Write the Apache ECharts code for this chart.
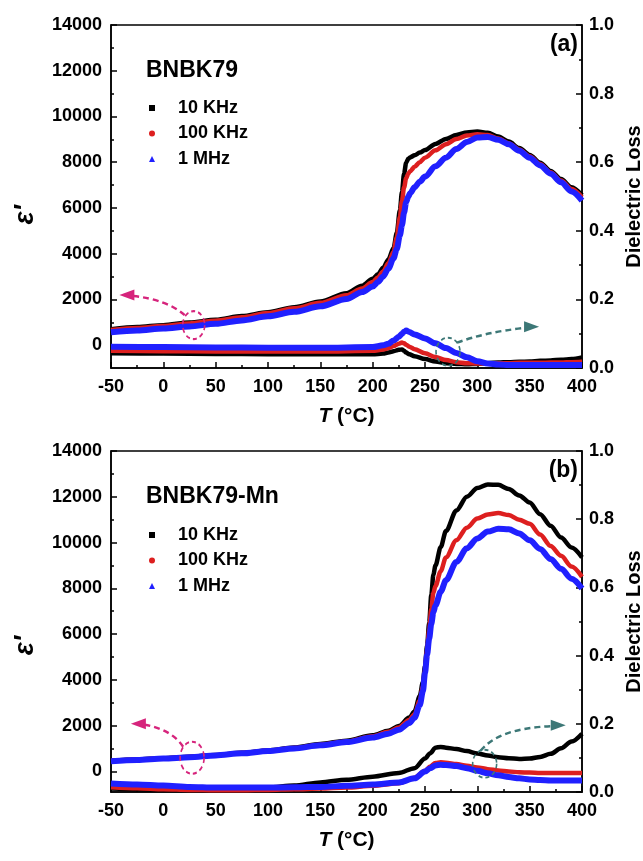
<!DOCTYPE html>
<html><head><meta charset="utf-8">
<script src="https://cdn.jsdelivr.net/npm/echarts@6/dist/echarts.min.js"></script>
<style>html,body{margin:0;padding:0;background:#fff}#c{width:643px;height:861px}</style>
</head><body><div id="c"></div>
<script>
// ---------- data ----------
const seriesNames = ['10 KHz', '100 KHz', '1 MHz'];
const xTicks = [-50, 0, 50, 100, 150, 200, 250, 300, 350, 400];
const epsTicks = [0, 2000, 4000, 6000, 8000, 10000, 12000, 14000];
const epsMinorTicks = [1000, 3000, 5000, 7000, 9000, 11000, 13000];
const lossTicks = [0.0, 0.2, 0.4, 0.6, 0.8, 1.0];

// Panel (a) BNBK79 — permittivity
const Ta_eps = [-50,-25,0,25,50,75,100,125,150,175,190,200,205,210,215,220,223,226,228,230,232,234,236,240,245,250,260,270,280,290,300,310,320,330,340,350,360,370,380,390,400];
const a_eps_10k = [700,790,875,990,1110,1270,1440,1660,1910,2270,2600,2900,3100,3380,3750,4250,4900,5900,6700,7500,7980,8150,8220,8300,8420,8530,8800,9020,9190,9300,9340,9290,9120,8900,8620,8320,7980,7620,7260,6900,6550];
const a_eps_100k = [660,750,840,950,1070,1220,1400,1610,1850,2180,2480,2760,2960,3220,3580,4100,4700,5600,6300,6900,7300,7500,7620,7800,8000,8200,8520,8790,9010,9170,9220,9190,9040,8830,8560,8260,7920,7560,7200,6830,6470];
const a_eps_1M = [560,640,730,820,930,1080,1260,1460,1700,2020,2320,2560,2760,3000,3350,3800,4200,4800,5250,5800,6250,6500,6650,6900,7150,7370,7820,8200,8580,8880,9080,9100,8980,8780,8500,8200,7860,7500,7120,6720,6320];
// Panel (a) — dielectric loss
const Ta_loss = [-50,0,50,100,150,200,210,215,220,225,228,230,232,235,240,250,260,270,280,290,300,310,320,330,340,350,360,370,380,390,400];
const a_loss_10k = [0.043,0.042,0.041,0.040,0.040,0.040,0.042,0.045,0.049,0.053,0.054,0.050,0.045,0.040,0.034,0.026,0.019,0.014,0.012,0.011,0.012,0.014,0.016,0.017,0.018,0.019,0.021,0.022,0.024,0.026,0.031];
const a_loss_100k = [0.050,0.049,0.048,0.048,0.048,0.050,0.054,0.058,0.064,0.071,0.074,0.072,0.068,0.062,0.055,0.043,0.032,0.023,0.017,0.014,0.013,0.013,0.014,0.014,0.015,0.015,0.015,0.016,0.016,0.017,0.018];
const a_loss_1M = [0.062,0.061,0.060,0.059,0.059,0.061,0.066,0.071,0.080,0.091,0.100,0.106,0.109,0.105,0.098,0.086,0.072,0.058,0.044,0.031,0.020,0.013,0.010,0.009,0.009,0.009,0.009,0.009,0.009,0.009,0.009];

// Panel (b) BNBK79-Mn — permittivity
const Tb_eps = [-50,-25,0,25,50,75,100,125,150,175,200,215,225,235,240,245,248,250,252,254,256,258,260,265,270,280,290,300,310,320,330,340,350,360,370,380,390,400];
const b_eps_10k = [470,520,580,640,720,810,910,1040,1200,1340,1580,1780,1980,2350,2620,3300,3900,4600,5500,6500,7700,8600,9000,9800,10500,11400,12000,12380,12540,12520,12340,12060,11750,11240,10730,10220,9780,9350];
const b_eps_100k = [460,510,570,630,710,800,900,1020,1170,1310,1540,1730,1920,2250,2500,3100,3700,4400,5300,6200,7100,7800,8100,8750,9350,10100,10650,11050,11230,11290,11200,11000,10820,10350,9850,9420,8950,8500];
const b_eps_1M = [440,500,560,620,700,790,890,1000,1140,1280,1480,1650,1820,2120,2350,2900,3500,4300,5100,5800,6450,6950,7250,7850,8350,9150,9750,10180,10480,10600,10580,10400,10100,9720,9280,8850,8420,7990];
// Panel (b) — dielectric loss
const Tb_loss = [-50,-25,0,25,50,75,100,125,150,175,200,225,240,250,255,260,265,270,280,290,300,310,320,330,340,350,360,370,380,390,400];
const b_loss_10k = [0.010,0.008,0.007,0.007,0.007,0.009,0.013,0.019,0.028,0.036,0.045,0.056,0.070,0.098,0.114,0.130,0.132,0.130,0.126,0.120,0.113,0.107,0.102,0.099,0.097,0.098,0.103,0.112,0.128,0.148,0.171];
const b_loss_100k = [0.014,0.011,0.008,0.006,0.005,0.005,0.006,0.008,0.010,0.013,0.018,0.026,0.042,0.062,0.075,0.085,0.087,0.086,0.082,0.077,0.072,0.067,0.063,0.060,0.058,0.057,0.056,0.056,0.056,0.056,0.056];
const b_loss_1M = [0.025,0.022,0.019,0.015,0.013,0.013,0.013,0.014,0.015,0.018,0.022,0.028,0.040,0.060,0.070,0.078,0.080,0.079,0.076,0.070,0.062,0.055,0.049,0.044,0.040,0.037,0.035,0.034,0.034,0.034,0.034];

// ---------- styling ----------
const FONT = "'Liberation Sans', Arial, sans-serif";
const COLORS = ['#000000', '#dd1f1f', '#2020ff'];
const WIDTHS = [4.5, 4.5, 6];
const MAGENTA = '#d6247c';
const TEAL = '#3d7877';

const chart = echarts.init(document.getElementById('c'), null, {renderer: 'canvas'});

const grids = [
  {left: 111, top: 25, width: 471, height: 343},
  {left: 111, top: 451, width: 471, height: 341}
];
const epsMin = [-1000, -900];

function pairs(xs, ys) { return xs.map((x, i) => [x, ys[i]]); }

const tickLabel = {fontSize: 18, fontWeight: 'bold', fontFamily: FONT, color: '#000'};
const axLine = {show: true, onZero: false, lineStyle: {color: '#000', width: 1.5}};

const xAxes = [0, 1].map(g => ({
  type: 'value', gridIndex: g, min: -50, max: 400, interval: 50,
  axisLine: axLine,
  axisTick: {show: true, inside: true, length: 6, lineStyle: {color: '#000', width: 1.5}},
  minorTick: {show: true, splitNumber: 2, length: 3, lineStyle: {color: '#000', width: 1.5}},
  axisLabel: Object.assign({margin: 10, showMinLabel: true, showMaxLabel: true, formatter: v => String(v)}, tickLabel),
  splitLine: {show: false},
  name: '{i|T} (°C)', nameLocation: 'middle', nameGap: 38,
  nameTextStyle: {fontSize: 21, fontWeight: 'bold', fontFamily: FONT, color: '#000',
    rich: {i: {fontSize: 21, fontWeight: 'bold', fontStyle: 'italic', fontFamily: FONT, color: '#000'}}}
}));

const yAxes = [];
[0, 1].forEach(g => {
  yAxes.push({
    type: 'value', gridIndex: g, position: 'left', min: epsMin[g], max: 14000,
    axisLine: axLine,
    axisTick: {show: true, inside: true, length: 6, customValues: epsTicks, lineStyle: {color: '#000', width: 1.5}},
    axisLabel: Object.assign({margin: 9, customValues: epsTicks, formatter: v => String(v)}, tickLabel),
    splitLine: {show: false}
  });
  yAxes.push({
    type: 'value', gridIndex: g, position: 'right', min: 0, max: 1, interval: 0.2,
    axisLine: axLine,
    axisTick: {show: true, inside: true, length: 6, lineStyle: {color: '#000', width: 1.5}},
    minorTick: {show: true, splitNumber: 2, length: 3, lineStyle: {color: '#000', width: 1.5}},
    axisLabel: Object.assign({margin: 7, formatter: v => v.toFixed(1)}, tickLabel),
    splitLine: {show: false},
    name: 'Dielectric Loss', nameLocation: 'middle', nameRotate: 90, nameGap: 42,
    nameTextStyle: {fontSize: 20, fontWeight: 'bold', fontFamily: FONT, color: '#000'}
  });
  yAxes.push({
    type: 'value', gridIndex: g, position: 'left', min: epsMin[g], max: 14000,
    axisLine: {show: false, onZero: false},
    axisTick: {show: true, inside: true, length: 3, customValues: epsMinorTicks, lineStyle: {color: '#000', width: 1.5}},
    axisLabel: {show: false},
    splitLine: {show: false}
  });
});

const panelData = [
  {Te: Ta_eps, eps: [a_eps_10k, a_eps_100k, a_eps_1M], Tl: Ta_loss, loss: [a_loss_10k, a_loss_100k, a_loss_1M]},
  {Te: Tb_eps, eps: [b_eps_10k, b_eps_100k, b_eps_1M], Tl: Tb_loss, loss: [b_loss_10k, b_loss_100k, b_loss_1M]}
];

const series = [];
panelData.forEach((p, g) => {
  p.eps.forEach((ys, k) => series.push({
    type: 'line', name: seriesNames[k], xAxisIndex: g, yAxisIndex: g * 3,
    data: pairs(p.Te, ys), showSymbol: false, smooth: 0.3, smoothMonotone: 'x',
    lineStyle: {color: COLORS[k], width: WIDTHS[k]}, itemStyle: {color: COLORS[k]}, z: 2 + k
  }));
  p.loss.forEach((ys, k) => series.push({
    type: 'line', name: seriesNames[k], xAxisIndex: g, yAxisIndex: g * 3 + 1,
    data: pairs(p.Tl, ys), showSymbol: false, smooth: 0.3, smoothMonotone: 'x',
    lineStyle: {color: COLORS[k], width: WIDTHS[k]}, itemStyle: {color: COLORS[k]}, z: 2 + k
  }));
});

const legendData = [
  {name: '10 KHz', icon: 'rect'},
  {name: '100 KHz', icon: 'circle'},
  {name: '1 MHz', icon: 'triangle'}
];
const legends = [99, 526].map(top => ({
  orient: 'vertical', left: 149, top: top, itemWidth: 6, itemHeight: 6, itemGap: 7.5,
  padding: 0, data: legendData, selectedMode: false,
  textStyle: {fontSize: 18, fontWeight: 'bold', fontFamily: FONT, color: '#000', lineHeight: 18, padding: [0, 0, 0, 18]}
}));

const titleStyle = {fontSize: 23, fontWeight: 'bold', fontFamily: FONT, color: '#000'};
const titles = [
  {text: 'BNBK79', left: 146, top: 59, padding: 0, textStyle: titleStyle},
  {text: '(a)', right: 65, top: 33, padding: 0, textStyle: titleStyle},
  {text: 'BNBK79-Mn', left: 146, top: 485, padding: 0, textStyle: titleStyle},
  {text: '(b)', right: 65, top: 459, padding: 0, textStyle: titleStyle}
];

chart.setOption({
  animation: false,
  backgroundColor: '#fff',
  title: titles,
  legend: legends,
  grid: grids.map(g => Object.assign({show: true, borderColor: '#000', borderWidth: 1.5, containLabel: false, outerBoundsMode: 'none'}, g)),
  xAxis: xAxes,
  yAxis: yAxes,
  series: series
});

// ---------- annotations (anchored in data space) ----------
function px(si, pt) { return chart.convertToPixel({seriesIndex: si}, pt); }
const dash = [4, 3];
function ellipse(c, rx, ry, color) {
  return {type: 'circle', x: c[0], y: c[1], scaleX: 1, scaleY: ry / rx, shape: {cx: 0, cy: 0, r: rx},
    style: {fill: 'none', stroke: color, lineWidth: 1.6, lineDash: dash, strokeNoScale: true}, z: 20};
}
function curve(s, cp, e, color) {
  return {type: 'bezierCurve', shape: {x1: s[0], y1: s[1], cpx1: cp[0], cpy1: cp[1], x2: e[0], y2: e[1]},
    style: {fill: 'none', stroke: color, lineWidth: 2.4, lineDash: [6, 4]}, z: 20};
}
function head(tip, dir, color) {
  const L = 15, W = 5.5;
  return {type: 'polygon', shape: {points: [tip, [tip[0] - dir * L, tip[1] - W], [tip[0] - dir * L, tip[1] + W]]},
    style: {fill: color}, z: 21};
}
function epsName(cx, cy) {
  return {type: 'text', x: cx, y: cy, rotation: Math.PI / 2, z: 30,
    style: {text: "ε'", font: "italic bold 27px " + FONT, fill: '#000', textAlign: 'center', textVerticalAlign: 'middle'}};
}
const anns = [];
// y-axis titles (placed as in the reference, slightly below the axis middle)
{
  const ca = px(0, [-50, 5700]), cb = px(6, [-50, 5500]);
  anns.push(epsName(ca[0] - 85, ca[1]), epsName(cb[0] - 85, cb[1]));
}
{
  const c = px(0, [29, 875]), t = px(0, [-42, 2190]);
  const s = [c[0] - 9, c[1] - 10], e = [t[0] + 14, t[1] + 1];
  anns.push(ellipse(c, 11, 14, MAGENTA), curve(s, [(s[0] + e[0]) / 2 + 8, (s[1] + e[1]) / 2 - 6], e, MAGENTA), head(t, -1, MAGENTA));
}
{
  const c = px(3, [272, 0.0475]), t = px(3, [359, 0.12]);
  const s = [c[0] + 9, c[1] - 9], e = [t[0] - 14, t[1] + 1];
  anns.push(ellipse(c, 12, 14, TEAL), curve(s, [(s[0] + e[0]) / 2 - 6, (s[1] + e[1]) / 2 - 3], e, TEAL), head(t, 1, TEAL));
}
{
  const c = px(6, [27.5, 597]), t = px(6, [-31, 2080]);
  const s = [c[0] - 9, c[1] - 11], e = [t[0] + 14, t[1] + 1];
  anns.push(ellipse(c, 12, 16, MAGENTA), curve(s, [(s[0] + e[0]) / 2 + 8, (s[1] + e[1]) / 2 - 6], e, MAGENTA), head(t, -1, MAGENTA));
}
{
  const c = px(9, [307, 0.083]), t = px(9, [384.5, 0.196]);
  const s = [c[0] - 4, c[1] - 13], e = [t[0] - 14, t[1] + 1];
  anns.push(ellipse(c, 12, 14, TEAL), curve(s, [s[0] + 18, e[1] + 2], e, TEAL), head(t, 1, TEAL));
}
chart.setOption({graphic: anns});
</script>
</body></html>
